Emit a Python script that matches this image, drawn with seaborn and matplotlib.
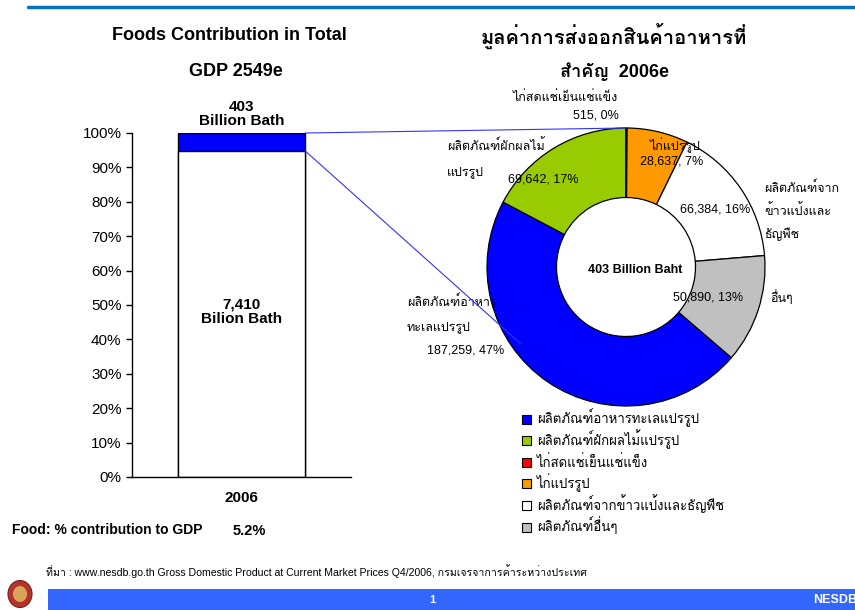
import numpy as np
import matplotlib
matplotlib.use("Agg")
import matplotlib.pyplot as plt
import matplotlib.font_manager as fm
from matplotlib.patches import Rectangle, Ellipse, ConnectionPatch
import seaborn as sns
from fontTools.ttLib import TTFont

# ---- data ----
years = ["2006"]
food_gdp = [403]          # billion baht
other_gdp = [7410]        # billion baht
food_share_label = "5.2%"

categories = ["ผลิตภัณฑ์อาหารทะเลแปรรูป", "ผลิตภัณฑ์ผักผลไม้แปรรูป", "ไก่สดแช่เย็นแช่แข็ง",
              "ไก่แปรรูป", "ผลิตภัณฑ์จากข้าวแป้งและธัญพืช", "ผลิตภัณฑ์อื่นๆ"]
pie_names = [["ผลิตภัณฑ์อาหาร", "ทะเลแปรรูป"], ["ผลิตภัณฑ์ผักผลไม้", "แปรรูป"],
             ["ไก่สดแช่เย็นแช่แข็ง"], ["ไก่แปรรูป"],
             ["ผลิตภัณฑ์จาก", "ข้าวแป้งและ", "ธัญพืช"], ["อื่นๆ"]]
export_values = [187259, 69642, 515, 28637, 66384, 50890]   # million baht
export_pcts = [47, 17, 0, 7, 16, 13]
colors = ["#0000FF", "#99CC00", "#FF0000", "#FF9900", "#FFFFFF", "#C0C0C0"]


def thai_family():
    for path in sorted(fm.findSystemFonts()):
        try:
            f = TTFont(path, fontNumber=0, lazy=True)
            if 0x0E01 in f.getBestCmap():
                fm.fontManager.addfont(path)
                return fm.FontProperties(fname=path).get_name()
        except Exception:
            pass
    return None


sns.set_theme(style="white")
thai = thai_family()
fams = ["Liberation Sans"] + ([thai] if thai else []) + ["DejaVu Sans"]
plt.rcParams["font.family"] = fams
plt.rcParams.update({"text.color": "black", "axes.labelcolor": "black",
                     "xtick.color": "black", "ytick.color": "black"})

W, H = 855, 610
fig = plt.figure(figsize=(W / 100, H / 100), dpi=100)


def fx(x):
    return x / W


def fy(y):
    return 1 - y / H


def ftext(x, y, s, **kw):
    kw.setdefault("ha", "center")
    kw.setdefault("va", "center")
    kw.setdefault("color", "black")
    fig.text(fx(x), fy(y), s, **kw)


# ---- left: stacked 100% bar ----
ax = fig.add_axes([fx(132), fy(477), 219 / W, 344 / H])
total = np.array(food_gdp) + np.array(other_gdp)
other_pct = np.array(other_gdp) / total * 100
sns.barplot(x=years, y=[100] * len(years), color="#0000FF", edgecolor="black",
            linewidth=1, width=0.58, saturation=1, ax=ax)
sns.barplot(x=years, y=other_pct, color="white", edgecolor="black",
            linewidth=1, width=0.58, saturation=1, ax=ax)
ax.set_xlim(-0.5, 0.5)
ax.set_ylim(0, 100)
ax.set_yticks(range(0, 101, 10))
ax.set_yticklabels([f"{v}%" for v in range(0, 101, 10)])
ax.tick_params(axis="y", length=4.5, width=1, color="black", direction="out",
               labelsize=11, pad=3, left=True)
ax.tick_params(axis="x", length=0, labelsize=11, pad=10)
for lab in ax.get_xticklabels():
    lab.set_fontweight("bold")
for side in ["top", "right"]:
    ax.spines[side].set_visible(False)
for side in ["left", "bottom"]:
    ax.spines[side].set_color("black")
    ax.spines[side].set_linewidth(1)
ax.set_xlabel("")
ax.set_ylabel("")
ax.text(0, 100 + 1.5, f"{food_gdp[0]}\nBillion Bath", ha="center", va="bottom",
        fontsize=11, fontweight="bold", linespacing=0.95)
ax.text(0, 48, f"{other_gdp[0]:,}\nBilion Bath", ha="center", va="center",
        fontsize=11, fontweight="bold", linespacing=1.1)

ftext(229, 36, "Foods Contribution in Total", fontsize=13, fontweight="bold")
ftext(236, 72, "GDP 2549e", fontsize=13, fontweight="bold")
ftext(12, 530, "Food: % contribution to GDP", fontsize=10, fontweight="bold", ha="left")
ftext(249, 531, food_share_label, fontsize=10.5, fontweight="bold")

# ---- right: doughnut ----
R = 139
axp = fig.add_axes([fx(626 - R), fy(267 + R), 2 * R / W, 2 * R / H])
start = 90 - 360 * sum(export_values[2:]) / sum(export_values)
axp.pie(export_values, colors=colors, startangle=start, counterclock=False,
        radius=1, wedgeprops=dict(width=0.5, edgecolor="black", linewidth=0.9))
axp.set_xlim(-1, 1)
axp.set_ylim(-1, 1)
axp.set_aspect("equal")
axp.axis("off")

vals = [f"{v:,}, {p}%" for v, p in zip(export_values, export_pcts)]
fs = 9
# (x, first-line y, line step, ha) for each name block, and centre of each value
name_pos = [(407, 302, 25, "left"), (447, 146, 26, "left"), (565, 98, 0, "center"),
            (675, 145, 0, "center"), (764, 188, 23, "left"), (770, 298, 0, "left")]
val_pos = [(466, 351), (543, 180), (596, 115), (672, 162), (715, 209), (708, 298)]
for lines, (x, y0, step, ha), (vx, vy), v in zip(pie_names, name_pos, val_pos, vals):
    for k, line in enumerate(lines):
        ftext(x, y0 + k * step, line, fontsize=fs, ha=ha)
    ftext(vx, vy, v, fontsize=fs)
ftext(635, 270, f"{food_gdp[0]} Billion Baht", fontsize=9, fontweight="bold")

ftext(614, 36, "มูลค่าการส่งออกสินค้าอาหารที่", fontsize=14.5, fontweight="bold")
ftext(614, 72, "สำคัญ  2006e", fontsize=13, fontweight="bold")

# connector lines from bar to doughnut
bar_right = 0.29
for ya, xyb in [(100, (0, 1)), (other_pct[0], (-0.76, -0.55))]:
    con = ConnectionPatch(xyA=(bar_right, ya), coordsA=ax.transData,
                          xyB=xyb, coordsB=axp.transData,
                          color="#3333FF", linewidth=0.8, zorder=10)
    fig.add_artist(con)

# legend (evenly spaced rows, text on a common baseline)
for i, (c, name) in enumerate(zip(colors, categories)):
    yy = 419 + i * 21.6
    fig.add_artist(Rectangle((fx(522), fy(yy + 4.5)), 9 / W, 9 / H, transform=fig.transFigure,
                             facecolor=c, edgecolor="black", linewidth=0.8))
    ftext(537, yy + 4.5, name, fontsize=9.5, ha="left", va="baseline")

# ---- slide decorations ----
fig.add_artist(plt.Line2D([fx(28), 1], [fy(7), fy(7)], color="#0070C0", linewidth=2.5))
fig.add_artist(Rectangle((fx(48), 0), 1 - fx(48), 21 / H, transform=fig.transFigure,
                         facecolor="#3366FF", edgecolor="none"))
fig.add_artist(Ellipse((fx(20), fy(594)), 24 / W, 27 / H, transform=fig.transFigure,
                       facecolor="#B5332E", edgecolor="#7A1F1A", linewidth=0.8))
fig.add_artist(Ellipse((fx(20), fy(594)), 14 / W, 16 / H, transform=fig.transFigure,
                       facecolor="#D9A55A", edgecolor="none"))
ftext(432, 600, "1", fontsize=8, fontweight="bold", color="white")
ftext(813, 600, "NESDB", fontsize=9, fontweight="bold", color="white", ha="left")
ftext(46, 571, "ที่มา : www.nesdb.go.th Gross Domestic Product at Current Market Prices Q4/2006, "
      "กรมเจรจาการค้าระหว่างประเทศ", fontsize=7.6, ha="left")

fig.savefig("out.png", dpi=100)
